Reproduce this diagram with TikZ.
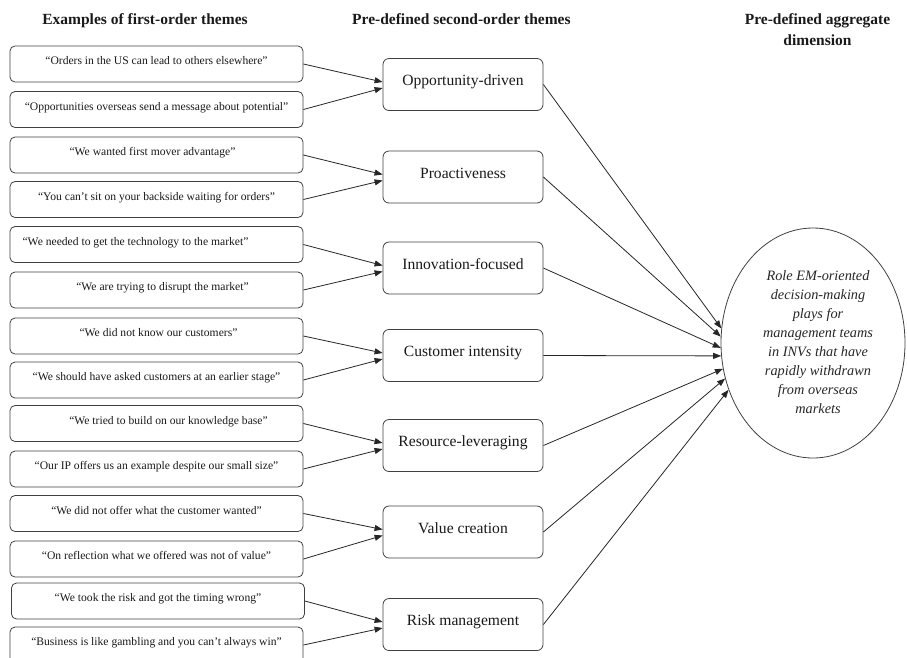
\documentclass[tikz,border=0pt]{standalone}
\usepackage{fontspec}
\setmainfont{Liberation Serif}
\usetikzlibrary{shapes.geometric,arrows.meta}
\newcommand\offtext[2]{\hspace*{#1}#2\hspace*{-#1}}
\begin{document}
\begin{tikzpicture}[x=1pt,y=-1pt,
  quote/.style={draw=black!75, line width=0.8pt, rounded corners=5pt,
    minimum width=293pt, minimum height=36pt, inner sep=0pt,
    text height=8pt, text depth=6.5pt, text=black!90,
    font=\fontsize{11.6}{13}\selectfont},
  theme/.style={draw=black!75, line width=0.8pt, rounded corners=6pt,
    minimum width=160pt, minimum height=52pt, inner sep=0pt,
    text height=11pt, text depth=8.7pt, text=black!90,
    font=\fontsize{15.6}{18}\selectfont},
  head/.style={font=\fontsize{15.5}{20.5}\selectfont\bfseries, align=center,
    anchor=base, inner sep=0pt, text=black!90},
  link/.style={draw=black!85, line width=0.8pt,
    -{Triangle[length=8pt,width=6pt]}},
]
\useasboundingbox (0,0) rectangle (907,657);

% headers
\node[head] (h1) at (145,24) {Examples of first-order themes};
\node[head, anchor=base west] (h2) at (352,24) {Pre-defined second-order themes};
\node[head] (h3) at (817.5,45) {Pre-defined aggregate\\dimension};

% first-order quotes
\node[quote] (q1) at (156.5,64) {“Orders in the US can lead to others elsewhere”};
\node[quote] (q2) at (156.5,109.5) {“Opportunities overseas send a message about potential”};
\node[quote] (q3) at (156.5,155) {\offtext{-4pt}{“We wanted first mover advantage”}};
\node[quote] (q4) at (156.5,199.5) {“You can’t sit on your backside waiting for orders”};
\node[quote] (q5) at (156.5,244.5) {\offtext{-21pt}{“We needed to get the technology to the market”}};
\node[quote] (q6) at (156.5,290) {\offtext{6pt}{“We are trying to disrupt the market”}};
\node[quote] (q7) at (156.5,336) {\offtext{2pt}{“We did not know our customers”}};
\node[quote] (q8) at (156.5,380) {“We should have asked customers at an earlier stage”};
\node[quote] (q9) at (156.5,423.5) {\offtext{12pt}{“We tried to build on our knowledge base”}};
\node[quote] (q10) at (156.5,469) {“Our IP offers us an example despite our small size”};
\node[quote] (q11) at (156.5,513.5) {“We did not offer what the customer wanted”};
\node[quote] (q12) at (156.5,559) {“On reflection what we offered was not of value”};
\node[quote] (q13) at (158,601) {“We took the risk and got the timing wrong”};
\node[quote] (q14) at (156.5,645) {“Business is like gambling and you can’t always win”};

% second-order themes
\node[theme] (t1) at (463,84.5) {Opportunity-driven};
\node[theme] (t2) at (463,177) {Proactiveness};
\node[theme] (t3) at (463,268) {Innovation-focused};
\node[theme] (t4) at (463,355.5) {Customer intensity};
\node[theme] (t5) at (463,445.5) {Resource-leveraging};
\node[theme] (t6) at (463,532) {Value creation};
\node[theme] (t7) at (463,624.5) {Risk management};

% aggregate dimension
\node[ellipse, draw=black!75, line width=0.8pt, minimum width=184pt,
  minimum height=230pt, inner sep=0pt] (agg) at (813,343) {};
\node[font=\fontsize{14.3}{19}\selectfont\itshape, align=center, text=black!85,
  inner sep=0pt] (aggtext) at (818,342)
  {Role EM-oriented\\decision-making\\plays for\\management teams\\in INVs that have\\rapidly withdrawn\\from overseas\\markets};

% links quotes -> themes
\foreach \a/\b/\t in {1/2/1, 3/4/2, 5/6/3, 7/8/4, 9/10/5, 11/12/6, 13/14/7}{
  \draw[link] (q\a.east) -- ([yshift=2.5pt]t\t.west);
  \draw[link] (q\b.east) -- ([yshift=-3.5pt]t\t.west);
}

% links themes -> aggregate
\draw[link] (t1.east) -- (agg.171);
\draw[link] (t2.east) -- (agg.176);
\draw[link] (t3.east) -- (agg.183);
\draw[link] (t4.east) -- (agg.188);
\draw[link] (t5.east) -- (agg.196);
\draw[link] (t6.east) -- (agg.202);
\draw[link] (t7.east) -- (agg.209);
\end{tikzpicture}
\end{document}
